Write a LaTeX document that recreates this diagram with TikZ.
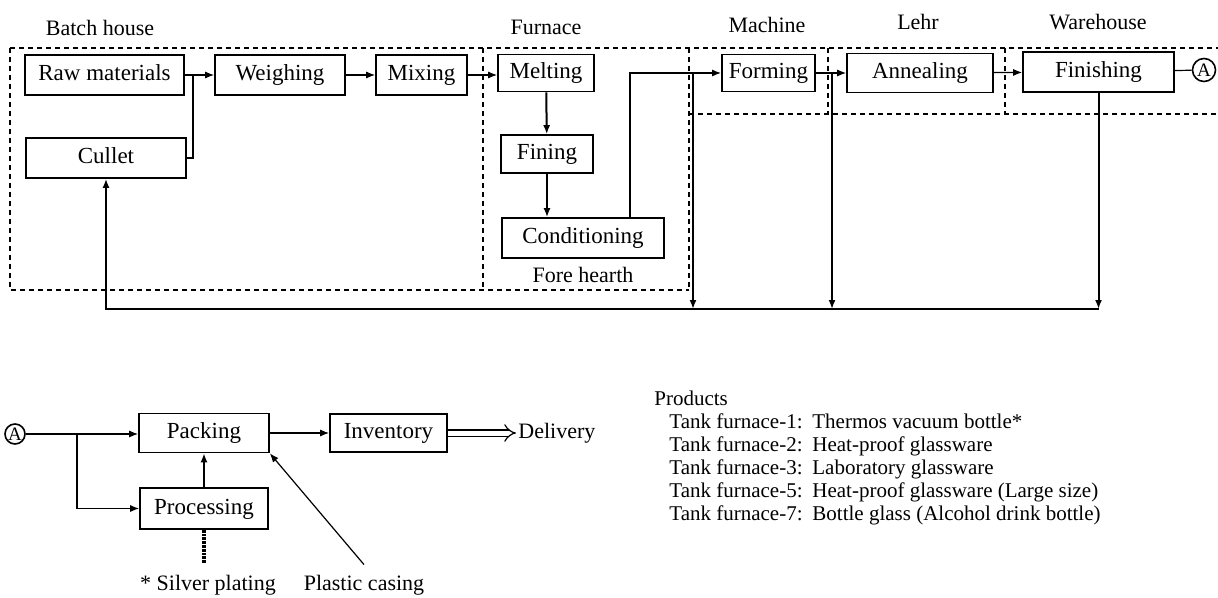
\documentclass[tikz,border=0pt]{standalone}
\usepackage{fontspec}
\setmainfont{Liberation Serif}
\usepackage{tikz}
\usetikzlibrary{arrows.meta, positioning, calc}
\tikzset{
  stage/.style={rectangle, draw, line width=0.8pt, minimum width=#1, minimum height=20pt,
                inner sep=1pt, text height=8pt, text depth=2.5pt,
                font=\fontsize{11.5}{12}\selectfont},
  stage/.default=60pt,
  tag/.style={inner sep=1pt, font=\fontsize{11}{12}\selectfont},
  item/.style={inner sep=1pt, anchor=base west, font=\fontsize{10.5}{12}\selectfont},
  mark A/.style={circle, draw, line width=0.8pt, minimum size=#1, inner sep=0pt,
                 font=\fontsize{9.5}{9.5}\selectfont},
  mark A/.default=11.5pt,
  link/.style={line width=0.6pt},
  flow/.style={-{Latex[length=4.5pt, width=3.5pt]}, line width=0.6pt},
  drop/.style={-{Latex[length=4.5pt, width=3.5pt]}, line width=1pt},
  zone/.style={line width=0.9pt, dash pattern=on 2.5pt off 2pt},
}

\begin{document}
\begin{tikzpicture}[x=0.5pt, y=-0.5pt]
  \useasboundingbox (0,0) rectangle (1218,598);

  % plant areas
  \node[tag] (lbatch) at (100, 28) {Batch house};
  \node[tag] (lfurn) at (546, 27) {Furnace};
  \node[tag] (lmach) at (767, 25) {Machine};
  \node[tag] (llehr) at (918, 22) {Lehr};
  \node[tag] (lware) at (1098, 22) {Warehouse};

  \draw[zone] (10,48) -- (1218,48);
  \draw[zone] (10,48) -- (10,290) -- (689,290);
  \draw[zone] (483,48) -- (483,290);
  \draw[zone] (689,48) -- (689,290);
  \draw[zone] (689,114) -- (1218,114);
  \draw[zone] (828,48) -- (828,114);
  \draw[zone] (1005,48) -- (1005,114);

  % process stages
  \node[stage=79.5pt] (raw) at (104.5, 75) {Raw materials};
  \node[stage=80pt] (cullet) at (106, 158) {Cullet};
  \node[stage=65pt] (weigh) at (280, 75) {Weighing};
  \node[stage=45.5pt] (mix) at (421.5, 75) {Mixing};
  \node[stage=48pt, minimum height=18.5pt] (melt) at (546, 73) {Melting};
  \node[stage=46pt, minimum height=19pt] (fine) at (547, 154) {Fining};
  \node[stage=81pt] (cond) at (583, 238) {Conditioning};
  \node[tag] (lhearth) at (583, 275) {Fore hearth};
  \node[stage=46.5pt, minimum height=18.5pt] (form) at (768.5, 73) {Forming};
  \node[stage=73pt, minimum height=19.5pt] (anneal) at (920, 73) {Annealing};
  \node[stage=75.5pt] (finish) at (1098.5, 72) {Finishing};
  \node[mark A] (atop) at (1204, 70) {A};

  \coordinate (join) at (193, 75);
  \coordinate (rise) at (630, 73);
  \coordinate (cut1) at (693, 73);
  \coordinate (cut2) at (832, 73);
  \coordinate (back) at (106, 309);

  \draw[link] (raw) -- (join);
  \draw[link] (cullet.east) -| (join);
  \draw[flow] (join) -- (weigh.west);
  \draw[flow] (weigh) -- (mix);
  \draw[flow] (mix.east) -- (mix.east -| melt.west);
  \draw[drop] (melt) -- (fine);
  \draw[drop] (fine.south) -- (fine.south |- cond.north);
  \draw[flow, line width=0.8pt] (rise |- cond.north) -- (rise) -- (form.west);
  \draw[flow] (form) -- (anneal);
  \draw[flow] (anneal) -- (finish);
  \draw[link] (finish) -- (atop);

  % rejects back to cullet
  \draw[drop] (cut1) -- (cut1 |- back);
  \draw[drop] (cut2) -- (cut2 |- back);
  \draw[drop] (finish.south) -- (finish.south |- back);
  \draw[drop] (finish.south |- back) -- (back) -- (cullet.south);

  % after finishing
  \node[mark A=10pt] (abot) at (15, 434) {A};
  \node[stage=65pt, minimum height=19.5pt] (pack) at (204, 433) {Packing};
  \node[stage=64pt, minimum height=20.5pt] (proc) at (204, 508.5) {Processing};
  \node[stage=58.5pt, minimum height=19pt] (inv) at (388.5, 433) {Inventory};
  \node[tag, anchor=west] (deliv) at (516, 433) {Delivery};
  \node[tag] (silver) at (208, 585) {* Silver plating};
  \node[tag] (plastic) at (364, 585) {Plastic casing};
  \coordinate (split) at (77, 434);
  \coordinate (plate) at (204, 563);

  \draw[link] (abot) -- (split);
  \draw[flow] (split) -- (split -| pack.west);
  \draw[flow] (split) |- (proc);
  \draw[drop] (proc) -- (pack);
  \draw[flow] (pack) -- (inv);
  \draw[double, double distance=2.5pt, line width=0.6pt, -{Implies}] (inv) -- (deliv);
  \draw[line width=2pt, dash pattern=on 1.4pt off 0.5pt] (proc.south) -- (plate);
  \draw[flow] ([yshift=4pt]plastic.north) -- (pack.south east);

  % product list
  \node[item] (prod) at (652, 405) {Products};
  \node[item] (tank1) at (667, 428) {Tank furnace-1:};
  \node[item] (tank2) at (667, 451) {Tank furnace-2:};
  \node[item] (tank3) at (667, 474) {Tank furnace-3:};
  \node[item] (tank5) at (667, 497) {Tank furnace-5:};
  \node[item] (tank7) at (667, 520) {Tank furnace-7:};
  \node[item] (ware1) at (810, 428) {Thermos vacuum bottle*};
  \node[item] (ware2) at (810, 451) {Heat-proof glassware};
  \node[item] (ware3) at (810, 474) {Laboratory glassware};
  \node[item] (ware5) at (810, 497) {Heat-proof glassware (Large size)};
  \node[item] (ware7) at (810, 520) {Bottle glass (Alcohol drink bottle)};
\end{tikzpicture}
\end{document}
